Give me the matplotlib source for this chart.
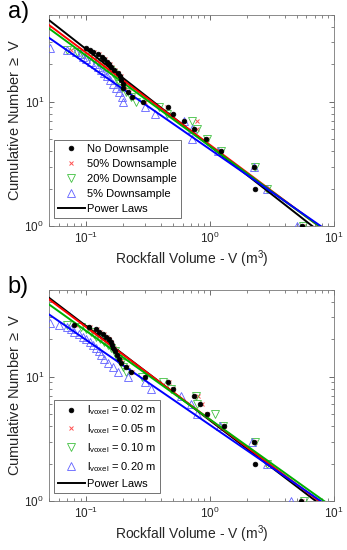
import numpy as np
import matplotlib
matplotlib.use("Agg")
import matplotlib.pyplot as plt

plt.rcParams["font.family"] = ["Liberation Sans", "DejaVu Sans"]
plt.rcParams["mathtext.fontset"] = "custom"
plt.rcParams["mathtext.rm"] = "Liberation Sans"
plt.rcParams["mathtext.it"] = "Liberation Sans:italic"

# ---- panel a: downsampling ----
a_labels = ["No Downsample", "50% Downsample", "20% Downsample", "5% Downsample"]
a_black_v = [5.5, 2.33, 2.28, 1.22, 0.93, 0.74, 0.62, 0.50, 0.46, 0.29, 0.235, 0.219, 0.20,
             0.198, 0.191, 0.188, 0.180, 0.167, 0.159, 0.154, 0.146, 0.140, 0.133, 0.124,
             0.113, 0.107, 0.100]
a_black_n = [1, 2, 3, 4, 5, 6, 7, 8, 9, 10, 11, 12, 13, 14, 15, 16, 17, 18, 19, 20, 21, 22,
             23, 24, 25, 26, 27]
a_red_v = [5.6, 2.9, 2.28, 1.2, 0.95, 0.79, 0.78, 0.48, 0.45, 0.30, 0.24, 0.22, 0.205, 0.2,
           0.193, 0.19, 0.182, 0.17, 0.162, 0.156, 0.148, 0.142, 0.135, 0.126, 0.115, 0.075]
a_red_n = [1, 2, 3, 4, 5, 6, 7, 8, 9, 10, 11, 12, 13, 14, 15, 16, 17, 18, 19, 20, 21, 22,
           23, 24, 25, 26]
a_green_v = [5.6, 2.9, 2.32, 1.23, 0.95, 0.78, 0.71, 0.45, 0.39, 0.254, 0.228, 0.21, 0.195,
             0.185, 0.18, 0.172, 0.165, 0.155, 0.145, 0.135, 0.125, 0.115, 0.105, 0.095,
             0.085, 0.07]
a_green_n = [1, 2, 3, 4, 5, 6, 7, 8, 9, 10, 11, 12, 13, 14, 15, 16, 17, 18, 19, 20, 21, 22,
             23, 24, 25, 26]
a_blue_v = [5.0, 2.9, 2.25, 1.17, 0.72, 0.72, 0.62, 0.357, 0.30, 0.20, 0.195, 0.185, 0.175,
            0.165, 0.155, 0.148, 0.14, 0.132, 0.125, 0.118, 0.11, 0.10, 0.095, 0.09, 0.082,
            0.07, 0.051]
a_blue_n = [1, 2, 3, 4, 5, 6, 7, 8, 9, 10, 11, 12, 13, 14, 15, 16, 17, 18, 19, 20, 21, 22,
            23, 24, 25, 26, 27]
# power law fits N = C * V^-b  (black, red, green, blue)
a_fit_c = [4.40, 4.49, 4.38, 4.14]
a_fit_b = [0.779, 0.742, 0.729, 0.690]

# ---- panel b: voxel size ----
b_labels = [r"l$_\mathregular{voxel}$ = 0.02 m", r"l$_\mathregular{voxel}$ = 0.05 m",
            r"l$_\mathregular{voxel}$ = 0.10 m", r"l$_\mathregular{voxel}$ = 0.20 m"]
b_black_v = [5.4, 2.32, 2.28, 1.3, 0.94, 0.83, 0.74, 0.5, 0.46, 0.296, 0.23, 0.21, 0.19,
             0.185, 0.178, 0.172, 0.166, 0.162, 0.158, 0.152, 0.145, 0.136, 0.128, 0.12,
             0.105, 0.08]
b_black_n = [1, 2, 3, 4, 5, 6, 7, 8, 9, 10, 11, 12, 13, 14, 15, 16, 17, 18, 19, 20, 21, 22,
             23, 24, 25, 26]
b_red_v = [5.5, 2.9, 2.3, 1.3, 0.95, 0.86, 0.8, 0.5, 0.47, 0.3, 0.235, 0.215, 0.195, 0.19,
           0.182, 0.175, 0.168, 0.163, 0.16, 0.154, 0.147, 0.138, 0.13, 0.122, 0.108, 0.082]
b_red_n = [1, 2, 3, 4, 5, 6, 7, 8, 9, 10, 11, 12, 13, 14, 15, 16, 17, 18, 19, 20, 21, 22,
           23, 24, 25, 26]
b_green_v = [5.7, 2.9, 2.3, 1.28, 1.1, 0.78, 0.77, 0.48, 0.42, 0.28, 0.21, 0.2, 0.19, 0.18,
             0.175, 0.17, 0.16, 0.15, 0.14, 0.13, 0.12, 0.115, 0.11, 0.1, 0.09, 0.07]
b_green_n = [1, 2, 3, 4, 5, 6, 7, 8, 9, 10, 11, 12, 13, 14, 15, 16, 17, 18, 19, 20, 21, 22,
             23, 24, 25, 26]
b_blue_v = [4.47, 2.9, 2.18, 1.2, 0.78, 0.7, 0.588, 0.336, 0.3, 0.217, 0.18, 0.164, 0.15,
            0.14, 0.132, 0.128, 0.12, 0.113, 0.108, 0.1, 0.095, 0.088, 0.08, 0.075, 0.07,
            0.06, 0.051]
b_blue_n = [1, 2, 3, 4, 5, 6, 7, 8, 9, 10, 11, 12, 13, 14, 15, 16, 17, 18, 19, 20, 21, 22,
            23, 24, 25, 26, 27]
b_fit_c = [4.45, 4.52, 4.53, 4.09]
b_fit_b = [0.759, 0.744, 0.712, 0.684]

x_lim = (0.05, 10)
y_lim = (1, 50)
text_col = "#262626"
line_cols = ["black", "red", "#00b000", "blue"]
marker_styles = [
    dict(marker="o", ms=3.4, mfc="black", mec="black", mew=0.5),
    dict(marker="x", ms=3.4, mfc="none", mec="#ff5050", mew=0.7),
    dict(marker="v", ms=5.5, mfc="none", mec="#40c040", mew=0.6),
    dict(marker="^", ms=5.5, mfc="none", mec="#6060ff", mew=0.6),
]


def draw_panel(ax, series, labels, fit_c, fit_b):
    vv = np.logspace(np.log10(x_lim[0]), np.log10(x_lim[1]), 60)
    handles = []
    for (v, n), lab, st in zip(series, labels, marker_styles):
        h, = ax.plot(v, n, ls="none", label=lab, zorder=3, **st)
        handles.append(h)
    # black points are drawn on top
    handles[0].set_zorder(5)
    for c, b, col in zip(fit_c, fit_b, line_cols):
        ax.plot(vv, c * vv ** (-b), color=col, lw=1.4, zorder=4)
    pl, = ax.plot([], [], color="black", lw=1.4, label="Power Laws")
    handles.append(pl)
    ax.set_xscale("log")
    ax.set_yscale("log")
    ax.set_xlim(*x_lim)
    ax.set_ylim(*y_lim)
    ax.set_xlabel("Rockfall Volume - V (m$^3$)", fontsize=10, color=text_col, labelpad=2)
    ax.set_ylabel("Cumulative Number $\\geq$ V", fontsize=10.5, color=text_col, labelpad=2)
    ax.tick_params(which="both", direction="in", top=True, right=True,
                   labelsize=8.5, labelcolor=text_col, color="#555555")
    ax.tick_params(which="major", length=3.5, width=0.6)
    ax.tick_params(which="minor", length=2, width=0.5)
    for sp in ax.spines.values():
        sp.set_color("#777777")
        sp.set_linewidth(0.6)
    leg = ax.legend(handles=handles, loc="lower left", bbox_to_anchor=(0.018, 0.04),
                    fontsize=8, frameon=True, fancybox=False, borderpad=0.35,
                    handlelength=2.4, handletextpad=0.25, labelspacing=0.45,
                    borderaxespad=0.0)
    leg.get_frame().set_edgecolor("#333333")
    leg.get_frame().set_linewidth(0.6)
    for t in leg.get_texts():
        t.set_color("black")


fig = plt.figure(figsize=(3.47, 5.5), dpi=100)
ax_a = fig.add_axes([0.141, 0.589, 0.821, 0.384])
ax_b = fig.add_axes([0.141, 0.089, 0.821, 0.384])

draw_panel(ax_a,
           [(a_black_v, a_black_n), (a_red_v, a_red_n), (a_green_v, a_green_n),
            (a_blue_v, a_blue_n)],
           a_labels, a_fit_c, a_fit_b)
draw_panel(ax_b,
           [(b_black_v, b_black_n), (b_red_v, b_red_n), (b_green_v, b_green_n),
            (b_blue_v, b_blue_n)],
           b_labels, b_fit_c, b_fit_b)

fig.text(0.022, 0.998, "a)", fontsize=17, va="top", ha="left")
fig.text(0.022, 0.498, "b)", fontsize=17, va="top", ha="left")

fig.savefig("out.png", dpi=100)
